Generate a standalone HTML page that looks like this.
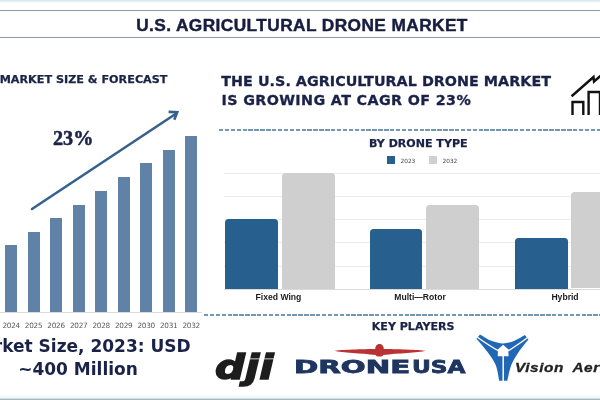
<!DOCTYPE html>
<html lang="en">
<head>
<meta charset="utf-8">
<title>U.S. Agricultural Drone Market</title>
<style>
html,body{margin:0;padding:0;background:#fff;}
body{width:600px;height:400px;overflow:hidden;position:relative;font-family:"DejaVu Sans","Liberation Sans",sans-serif;color:#1a2247;}
#page{position:absolute;left:0;top:0;width:600px;height:400px;overflow:hidden;background:#fff;}
.abs{position:absolute;white-space:nowrap;}
.b{font-weight:bold;}
.topband{position:absolute;left:0;top:0;width:600px;height:3px;background:linear-gradient(#d4e3ec,#ffffff);}
.hl{position:absolute;left:0;width:600px;height:1px;background:#8d9aa6;}
.botband{position:absolute;left:0;top:394px;width:600px;height:6px;background:linear-gradient(#ffffff 0%,#f2f9fb 40%,#edf6f8 72%,#a9bcc0 80%,#a3b8bc 93%,#c9d8db 100%);}
.title{left:0;width:604px;text-align:center;top:15.2px;font-size:17.3px;line-height:20px;font-weight:bold;font-family:"Liberation Sans",sans-serif;letter-spacing:0.41px;-webkit-text-stroke:0.45px #171d3f;color:#171d3f;}
.lb{position:absolute;width:12.3px;background:#6182a7;}
.yl{position:absolute;top:321.1px;width:30px;text-align:center;font-size:7.3px;letter-spacing:-0.25px;line-height:10px;color:#5a5a5a;font-family:"DejaVu Sans","Liberation Sans",sans-serif;}
.axis{position:absolute;left:0;top:312.4px;width:202px;height:1px;background:#d9d9d9;}
.dash{position:absolute;height:2px;background:repeating-linear-gradient(90deg,#7396b1 0,#7396b1 4.4px,transparent 4.4px,transparent 5.9px);}
.gl{position:absolute;left:224px;width:376px;height:1px;background:#ebebeb;}
.rb{position:absolute;border-radius:3.5px 3.5px 0 0;}
.blue{background:#27608f;}
.gray{background:#cfcfcf;}
.cat{position:absolute;top:291.8px;width:100px;text-align:center;font-size:8.6px;line-height:10px;font-weight:bold;color:#1a1a1a;font-family:"Liberation Sans",sans-serif;}
.lg{position:absolute;top:156.2px;width:8.2px;height:7.5px;}
.lgt{position:absolute;top:155.5px;font-size:5.8px;line-height:10px;color:#444;font-family:"DejaVu Sans","Liberation Sans",sans-serif;}
</style>
</head>
<body>
<div id="page">
<div class="topband"></div>
<div class="hl" style="top:9.8px"></div>
<div class="hl" style="top:36.7px"></div>
<div class="abs title">U.S. AGRICULTURAL DRONE MARKET</div>

<div class="abs b" style="left:-0.3px;top:72.7px;font-size:11.2px;line-height:14px;-webkit-text-stroke:0.25px #1a2247;">MARKET SIZE &amp; FORECAST</div>

<div class="abs b" style="left:221.3px;top:71px;font-size:14.3px;line-height:20px;letter-spacing:0.04px;-webkit-text-stroke:0.3px #1a2247;">THE U.S. AGRICULTURAL DRONE MARKET</div>
<div class="abs b" style="left:221.5px;top:90.2px;font-size:14.3px;line-height:20px;letter-spacing:0.37px;-webkit-text-stroke:0.3px #1a2247;">IS GROWING AT CAGR OF 23%</div>

<svg class="abs" style="left:560px;top:65px" width="40" height="60" viewBox="560 65 40 60">
<g fill="none" stroke="#111" stroke-width="2.4" stroke-linecap="square" stroke-linejoin="miter">
<path d="M572.5 113.9 V102 H583.3 V113.9"/>
<path d="M588.6 113.9 V92 H600 V113.9"/>
<path d="M572.5 95.5 L593.5 77 L594 81.5 L601 75.5"/>
</g>
</svg>

<div class="abs b" style="left:53px;top:125.6px;font-size:20.2px;line-height:24px;font-family:'Liberation Serif','DejaVu Serif',serif;-webkit-text-stroke:0.5px #1a2247;">23%</div>

<svg class="abs" style="left:0;top:100px" width="210" height="130" viewBox="0 100 210 130">
<g fill="none" stroke="#36618c" stroke-width="2.6" stroke-linecap="round" stroke-linejoin="miter">
<path d="M32 209 L175.5 114"/>
<path d="M168.6 111.9 L177.2 112.2 L174.3 119.8" stroke-linecap="butt"/>
</g>
</svg>

<div class="lb" style="left:5.0px;top:245px;height:67.5px"></div>
<div class="yl" style="left:-3.8px">2024</div>
<div class="lb" style="left:27.5px;top:232px;height:80.5px"></div>
<div class="yl" style="left:18.6px">2025</div>
<div class="lb" style="left:50.0px;top:218.3px;height:94.2px"></div>
<div class="yl" style="left:41.1px">2026</div>
<div class="lb" style="left:72.5px;top:204.5px;height:108.0px"></div>
<div class="yl" style="left:63.7px">2027</div>
<div class="lb" style="left:95.0px;top:191px;height:121.5px"></div>
<div class="yl" style="left:86.2px">2028</div>
<div class="lb" style="left:117.5px;top:177px;height:135.5px"></div>
<div class="yl" style="left:108.7px">2029</div>
<div class="lb" style="left:140.0px;top:163.4px;height:149.1px"></div>
<div class="yl" style="left:131.2px">2030</div>
<div class="lb" style="left:162.5px;top:150px;height:162.5px"></div>
<div class="yl" style="left:153.7px">2031</div>
<div class="lb" style="left:185.0px;top:136px;height:176.5px"></div>
<div class="yl" style="left:176.2px">2032</div>
<div class="lb" style="left:-17.5px;top:258px;height:54.5px"></div>
<div class="axis"></div>

<div class="abs b" style="left:-72px;width:300px;text-align:center;top:335px;font-size:17px;line-height:22.5px;">Market Size, 2023: USD<br>~400 Million</div>

<div class="dash" style="left:219px;top:128.7px;width:381px;"></div>
<div class="dash" style="left:204px;top:313.8px;width:396px;"></div>

<div class="abs b" style="left:369px;top:137.2px;font-size:11.05px;line-height:14px;-webkit-text-stroke:0.25px #1a2247;">BY DRONE TYPE</div>
<div class="lg blue" style="left:387.3px"></div><div class="lgt" style="left:400.5px">2023</div>
<div class="lg gray" style="left:428.8px"></div><div class="lgt" style="left:442.5px">2032</div>

<div class="gl" style="top:172.5px"></div>
<div class="gl" style="top:195.5px"></div>
<div class="gl" style="top:219px"></div>
<div class="gl" style="top:242px"></div>
<div class="gl" style="top:265.5px"></div>
<div class="gl" style="top:288.5px;background:#dadada"></div>
<div class="rb blue" style="left:225.2px;width:52.5px;top:219px;height:69.5px"></div>
<div class="rb gray" style="left:281.5px;width:53.3px;top:172.5px;height:116px"></div>
<div class="rb blue" style="left:369.8px;width:52.7px;top:228.5px;height:60px"></div>
<div class="rb gray" style="left:426px;width:53.3px;top:205px;height:83.5px"></div>
<div class="rb blue" style="left:515px;width:52.5px;top:238px;height:50.5px"></div>
<div class="rb gray" style="left:571px;width:53.3px;top:191.8px;height:96.7px"></div>
<div class="cat" style="left:228.5px">Fixed Wing</div>
<div class="cat" style="left:370px">Multi—Rotor</div>
<div class="cat" style="left:515px">Hybrid</div>

<div class="abs b" style="left:371.8px;top:320.4px;font-size:11.05px;line-height:14px;-webkit-text-stroke:0.25px #1a2247;">KEY PLAYERS</div>

<div class="abs b" style="left:215px;top:346.8px;font-size:34.5px;line-height:40px;font-style:oblique;color:#1d1d1d;-webkit-text-stroke:1.5px #1d1d1d;transform-origin:0 0;transform:scaleX(1.21);letter-spacing:0px;">dji</div>

<svg class="abs" style="left:330px;top:340px" width="100" height="20" viewBox="330 340 100 20">
<g fill="#bb3233">
<path d="M334 350.8 C340 349.6 364 349 376 348.9 L383 348.9 C395 349 419 349.6 426 350.8 C418 352.6 398 353.4 383 355 L376 355 C361 353.4 342 352.6 334 350.8 Z"/>
<path d="M379.5 344.1 C382.4 344.1 383.8 346.6 383.8 349.5 L383.4 354.6 C383.2 355.9 382.3 356.6 381.2 356.6 L377.8 356.6 C376.7 356.6 375.8 355.9 375.6 354.6 L375.2 349.5 C375.2 346.6 376.6 344.1 379.5 344.1 Z"/>
</g>
</svg>
<div class="abs b" id="drone" style="left:294px;top:354.7px;font-size:18.3px;line-height:24px;color:#1e3560;-webkit-text-stroke:0.8px #1e3560;transform-origin:0 0;transform:scaleX(1.6);">DRONE</div>
<div class="abs b" id="usa" style="left:411.5px;top:354.7px;font-size:18.3px;line-height:24px;color:#1e3560;-webkit-text-stroke:0.8px #1e3560;transform-origin:0 0;transform:scaleX(1.27);">USA</div>

<svg class="abs" style="left:470px;top:328px" width="70" height="60" viewBox="470 328 70 60">
<path fill="#2067b6" d="M476.4 338.7 L480 334.4 C481.9 335.5 487.5 339.3 491.4 340.8 C495.2 342.3 499.2 343.4 503.1 343.4 C507.0 343.4 510.9 342.2 514.5 340.8 C518.1 339.4 523.2 336.1 524.9 335.1 L528.4 339.4 C526.8 341.5 521.4 347.9 518.5 352.2 C515.6 356.5 513.2 360.4 511.3 365.1 C509.4 369.9 508.0 378.1 507.3 380.7 L499.2 380.7 C498.6 378.1 497.7 370.0 495.7 365.1 C493.7 360.2 490.3 355.9 487.1 351.5 C483.9 347.1 478.2 340.8 476.4 338.7 Z"/>
<g fill="none" stroke="#fff" stroke-width="1.4">
<path d="M477.4 337.3 C485 343 492 347 498.5 351"/>
<path d="M527.4 337.8 C520 343.5 514 347 508 351"/>
<path d="M503.2 355 V381.5" stroke-width="1.5"/>
</g>
<path fill="#fff" d="M503.1 344.8 L509.4 350.2 L508.3 351 L508.6 356.2 L497.7 356.2 L498 351 L496.9 350.2 Z"/>
</svg>
<div class="abs b" style="left:515px;top:358.1px;font-size:13px;line-height:20px;font-style:italic;font-family:'Liberation Sans',sans-serif;color:#222;-webkit-text-stroke:0.3px #222;letter-spacing:0.5px;word-spacing:3.5px;transform-origin:0 0;transform:scaleX(1.18);">Vision Aerial</div>

<div class="botband"></div>
</div>
</body>
</html>
